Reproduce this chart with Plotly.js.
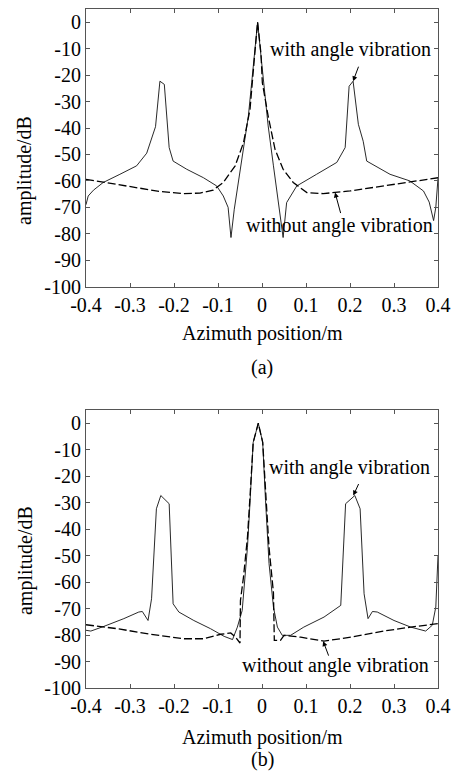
<!DOCTYPE html>
<html>
<head>
<meta charset="utf-8">
<script src="https://cdn.plot.ly/plotly-3.0.1.min.js"></script>
<style>html,body{margin:0;padding:0;background:#fff;}#chart{width:460px;height:778px;}</style>
</head>
<body>
<div id="chart"></div>
<script>
// ---- data (a) ----
const aWithX = [-0.4,-0.395,-0.383,-0.361,-0.323,-0.285,-0.262,-0.242,-0.232,-0.222,-0.211,-0.202,-0.171,-0.133,-0.103,-0.088,-0.077,-0.0705,-0.063,-0.054,-0.042,-0.031,-0.0235,-0.0175,-0.01,-0.0023,0.005,0.014,0.026,0.037,0.048,0.056,0.079,0.124,0.17,0.189,0.198,0.207,0.219,0.23,0.238,0.291,0.336,0.367,0.38,0.39,0.395,0.4];
const aWithY = [-69,-65.7,-63.5,-60.6,-57.5,-54.3,-49.5,-39.5,-22.3,-23.5,-47.4,-52.5,-55.6,-58.8,-61.9,-65.7,-70,-81.4,-70.7,-60.6,-48,-35.5,-22.9,-12.8,0,-12.8,-25.4,-39.2,-54.3,-68.2,-81.4,-68.2,-61.9,-57.5,-53,-47.4,-24.2,-22.3,-38.6,-45,-52.5,-57.5,-60,-63.8,-68,-75,-70,-59];
const aWithoutX = [-0.4,-0.307,-0.232,-0.179,-0.141,-0.111,-0.088,-0.075,-0.061,-0.042,-0.0273,-0.0175,-0.01,-0.0023,0.0008,0.014,0.0295,0.048,0.071,0.102,0.139,0.2,0.276,0.336,0.4];
const aWithoutY = [-59.4,-61.9,-64,-64.8,-64.6,-63.5,-60.6,-57.5,-54.3,-45.5,-33,-14,0,-12,-22.9,-35.5,-48,-55.6,-60.6,-64.4,-64.8,-63.8,-61.9,-60.3,-58.8];
// ---- data (b) ----
const bWithX = [-0.4,-0.389,-0.359,-0.314,-0.28,-0.272,-0.259,-0.251,-0.24,-0.23,-0.211,-0.202,-0.189,-0.155,-0.117,-0.086,-0.067,-0.056,-0.045,-0.04,-0.033,-0.027,-0.02,-0.0084,0.0016,0.008,0.016,0.026,0.035,0.046,0.065,0.095,0.141,0.179,0.19,0.211,0.223,0.232,0.241,0.251,0.262,0.3,0.338,0.372,0.387,0.395,0.4];
const bWithY = [-78.2,-78.5,-76.7,-73.8,-71.3,-71.1,-74.5,-66.3,-32.3,-27.3,-30.4,-68.2,-71.3,-74.5,-77.6,-80.5,-81.7,-77,-70.7,-60,-46.8,-29.2,-7.2,0,-7.2,-29.2,-53,-69.4,-77,-80.1,-80.1,-77,-73.2,-68.8,-30.4,-27.3,-32.3,-64.4,-73.8,-71.1,-71.3,-74.5,-77,-78.5,-76.3,-69.4,-50];
const bWithoutX = [-0.4,-0.329,-0.253,-0.177,-0.132,-0.094,-0.071,-0.06,-0.05,-0.049,-0.042,-0.033,-0.027,-0.02,-0.0084,0.0016,0.008,0.016,0.026,0.028,0.042,0.05,0.088,0.141,0.202,0.277,0.338,0.4];
const bWithoutY = [-76.1,-77.6,-79.7,-81.4,-81.4,-79.7,-79.2,-80.8,-83,-67,-58,-43,-27,-7.2,0,-7.2,-25,-47,-64,-82,-82,-80.1,-80.8,-82.3,-80.8,-78.5,-77,-75.7];
// ---- ticks & labels ----
const xTickVals = [-0.4,-0.3,-0.2,-0.1,0,0.1,0.2,0.3,0.4];
const xTickText = ["-0.4","-0.3","-0.2","-0.1","0","0.1","0.2","0.3","0.4"];
const yTickVals = [-100,-90,-80,-70,-60,-50,-40,-30,-20,-10,0];
const yTickText = ["-100","-90","-80","-70","-60","-50","-40","-30","-20","-10","0"];
const xTitle = "Azimuth position/m";
const yTitle = "amplitude/dB";
const withLabel = "with angle vibration";
const withoutLabel = "without angle vibration";

const FONT = "Liberation Serif, Times New Roman, serif";
const solid = {color:"#111", width:0.9};
const dashed = {color:"#000", width:1.3, dash:"8px,3px"};

const traces = [
  {x:aWithX, y:aWithY, xaxis:"x", yaxis:"y", mode:"lines", line:solid, name:withLabel},
  {x:aWithoutX, y:aWithoutY, xaxis:"x", yaxis:"y", mode:"lines", line:dashed, name:withoutLabel},
  {x:bWithX, y:bWithY, xaxis:"x2", yaxis:"y2", mode:"lines", line:solid, name:withLabel},
  {x:bWithoutX, y:bWithoutY, xaxis:"x2", yaxis:"y2", mode:"lines", line:dashed, name:withoutLabel}
];

function xax(anchor){
  return {anchor:anchor, domain:[0,1], range:[-0.4,0.4], tickmode:"array", tickvals:xTickVals, ticktext:xTickText,
    ticks:"inside", ticklen:4, tickcolor:"#555", showline:true, linecolor:"#555", linewidth:1, mirror:"ticks",
    showgrid:false, zeroline:false, tickfont:{family:FONT, size:20, color:"#000"}, fixedrange:true};
}
function yax(anchor, domain){
  return {anchor:anchor, domain:domain, range:[-100,5], tickmode:"array", tickvals:yTickVals, ticktext:yTickText,
    ticks:"inside", ticklen:4, tickcolor:"#555", showline:true, linecolor:"#555", linewidth:1, mirror:"ticks",
    showgrid:false, zeroline:false, tickfont:{family:FONT, size:20, color:"#000"}, fixedrange:true};
}

const tf = {family:FONT, size:20, color:"#000"};
const annotations = [
  // (a)
  {xref:"x", yref:"y", x:0.2, y:-10.2, text:withLabel, showarrow:false, font:tf},
  {xref:"x", yref:"y", x:0.207, y:-22.3, text:"", showarrow:true, ax:6, ay:-16, arrowhead:2, arrowsize:1, arrowwidth:1, arrowcolor:"#000"},
  {xref:"x", yref:"y", x:0.175, y:-77, text:withoutLabel, showarrow:false, font:tf},
  {xref:"x", yref:"y", x:0.166, y:-64.4, text:"", showarrow:true, ax:6, ay:22, arrowhead:2, arrowsize:1, arrowwidth:1, arrowcolor:"#000"},
  // (b)
  {xref:"x2", yref:"y2", x:0.199, y:-16.8, text:withLabel, showarrow:false, font:tf},
  {xref:"x2", yref:"y2", x:0.2075, y:-27.3, text:"", showarrow:true, ax:6, ay:-13, arrowhead:2, arrowsize:1, arrowwidth:1, arrowcolor:"#000"},
  {xref:"x2", yref:"y2", x:0.167, y:-91.4, text:withoutLabel, showarrow:false, font:tf},
  {xref:"x2", yref:"y2", x:0.139, y:-82.3, text:"", showarrow:true, ax:6, ay:16, arrowhead:2, arrowsize:1, arrowwidth:1, arrowcolor:"#000"},
  // axis titles and captions
  {xref:"paper", yref:"paper", x:0.5, y:0.5228, text:xTitle, showarrow:false, font:tf, yanchor:"middle"},
  {xref:"paper", yref:"paper", x:0.5, y:0.4713, text:"(a)", showarrow:false, font:tf, yanchor:"middle"},
  {xref:"paper", yref:"paper", x:0.5, y:-0.0722, text:xTitle, showarrow:false, font:tf, yanchor:"middle"},
  {xref:"paper", yref:"paper", x:0.5, y:-0.106, text:"(b)", showarrow:false, font:tf, yanchor:"middle"},
  {xref:"paper", yref:"paper", x:-0.1733, y:0.763, text:yTitle, textangle:-90, showarrow:false, font:tf, xanchor:"center", yanchor:"middle"},
  {xref:"paper", yref:"paper", x:-0.1733, y:0.1885, text:yTitle, textangle:-90, showarrow:false, font:tf, xanchor:"center", yanchor:"middle"}
];

const layout = {
  width:460, height:778,
  margin:{l:86, r:22, t:9, b:90, pad:0},
  paper_bgcolor:"#fff", plot_bgcolor:"#fff",
  showlegend:false,
  font:{family:FONT, size:20, color:"#000"},
  xaxis:xax("y"), yaxis:yax("x",[0.591,1]),
  xaxis2:xax("y2"), yaxis2:yax("x2",[0,0.4094]),
  annotations:annotations
};

Plotly.newPlot("chart", traces, layout, {displayModeBar:false, staticPlot:true});
</script>
</body>
</html>
